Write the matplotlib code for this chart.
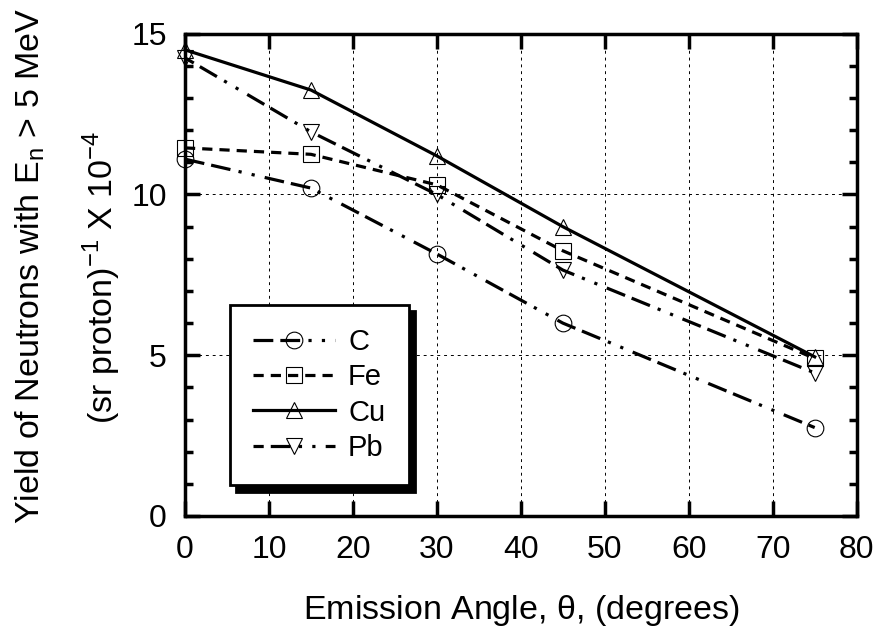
import matplotlib.pyplot as plt
import matplotlib.ticker as ticker

plt.rcParams["font.family"] = ["Liberation Sans", "DejaVu Sans"]
plt.rcParams["mathtext.fontset"] = "custom"
plt.rcParams["mathtext.rm"] = "Liberation Sans"

# Neutron yield (x 1e-4 per sr per proton) vs emission angle
angles = [0, 15, 30, 45, 75]
yield_c = [11.1, 10.2, 8.15, 6.0, 2.75]
yield_fe = [11.45, 11.25, 10.3, 8.25, 4.9]
yield_cu = [14.5, 13.25, 11.2, 9.0, 4.95]
yield_pb = [14.25, 11.95, 10.0, 7.65, 4.45]

# dash patterns in units of line width
dash_dot2 = (0, (6.2, 2.2, 6.2, 2.6, 1.0, 3.2, 1.0, 3.2))
series = [
    ("C", yield_c, "o", dash_dot2),
    ("Fe", yield_fe, "s", (0, (3.2, 2.2))),
    ("Cu", yield_cu, "^", "-"),
    ("Pb", yield_pb, "v", (3, (6.2, 2.2, 6.2, 2.6, 1.0, 3.2, 1.0, 3.2))),
]

fig = plt.figure(figsize=(8.85, 6.37), dpi=100)
ax = fig.add_axes([0.209, 0.19, 0.759, 0.757])

for name, vals, mk, ls in series:
    ax.plot(angles, vals, color="black", linewidth=2.3, linestyle=ls,
            marker=mk, markersize=12, markerfacecolor="none",
            markeredgecolor="black", markeredgewidth=0.8, label=name,
            clip_on=False, zorder=3)

ax.set_xlim(0, 80)
ax.set_ylim(0, 15)
ax.xaxis.set_major_locator(ticker.MultipleLocator(10))
ax.yaxis.set_major_locator(ticker.MultipleLocator(5))
ax.yaxis.set_minor_locator(ticker.MultipleLocator(1))
ax.tick_params(which="both", direction="in", top=True, right=True,
               labelsize=23, width=2.5)
ax.tick_params(which="major", length=11)
ax.tick_params(which="minor", length=6)
ax.tick_params(axis="x", which="minor", length=0)
ax.tick_params(axis="x", pad=14)
ax.tick_params(axis="y", pad=13)
for sp in ax.spines.values():
    sp.set_linewidth(2.5)
ax.grid(which="major", color="black", linestyle=(0, (3, 4)), linewidth=0.7)
ax.set_axisbelow(True)

ax.set_xlabel(r"Emission Angle, $\mathregular{\theta}$, (degrees)",
              fontsize=24.5, labelpad=20)

fig.text(0.034, 0.582, r"Yield of Neutrons with E$_{\mathregular{n}}$ > 5 MeV",
         rotation=90, ha="center", va="center", fontsize=24.5)
fig.text(0.115, 0.565,
         r"(sr proton)$^{\mathregular{-1}}$ X 10$^{\mathregular{-4}}$",
         rotation=90, ha="center", va="center", fontsize=24.5)

leg = ax.legend(loc="upper left", bbox_to_anchor=(0.067, 0.438), fontsize=21,
                frameon=True, fancybox=False, handlelength=2.8,
                labelspacing=0.25, borderpad=0.8, handletextpad=0.45,
                borderaxespad=0,
                shadow={"ox": 4.5, "oy": -4.5, "color": "black", "alpha": 1})
leg.get_frame().set_edgecolor("black")
leg.get_frame().set_linewidth(2)
leg.get_frame().set_alpha(1)

fig.savefig("out.png", dpi=100)
